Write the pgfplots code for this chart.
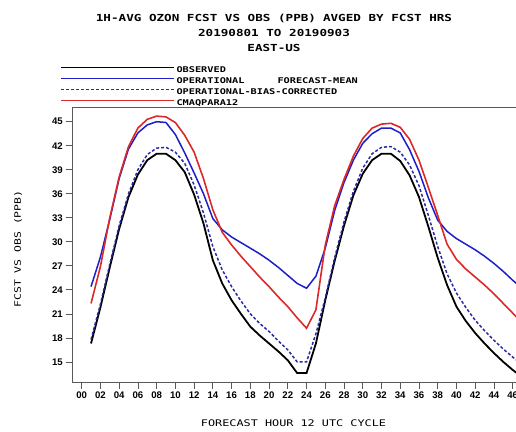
\documentclass[border=0pt]{standalone}
\usepackage{fontspec}
\usepackage{pgfplots}
\pgfplotsset{compat=1.18}
\usepackage{pgfplotstable}
\newfontfamily\gfont{DejaVu Sans Mono}[FakeStretch=1.3]
\newfontfamily\tfont{Liberation Sans}
\definecolor{obscol}{HTML}{000000}
\definecolor{opcol}{HTML}{1E1EC8}
\definecolor{bccol}{HTML}{2A2AA0}
\definecolor{cmcol}{HTML}{DC2828}

\pgfplotstableread{
h obs oper bc cmaq
1 17.3 24.4 17.8 22.3
2 21.8 28.1 22.2 26.9
3 26.8 32.8 27.2 33.0
4 31.6 37.9 32.0 38.1
5 35.6 41.6 36.0 41.9
6 38.4 43.6 39.0 44.2
7 40.2 44.6 40.9 45.3
8 41.0 45.0 41.7 45.7
9 41.0 44.9 41.8 45.6
10 40.2 43.4 41.2 44.9
11 38.7 41.1 39.8 43.3
12 35.9 38.6 37.1 41.2
13 32.3 36.0 33.6 37.9
14 27.7 32.9 29.4 34.0
15 24.8 31.5 26.5 31.2
16 22.7 30.6 24.4 29.6
17 21.0 29.9 22.6 28.2
18 19.4 29.2 21.0 26.9
19 18.3 28.5 19.8 25.6
20 17.3 27.7 18.8 24.4
21 16.3 26.8 17.6 23.1
22 15.2 25.8 16.5 21.9
23 13.6 24.8 15.0 20.5
24 13.6 24.2 15.0 19.2
25 17.3 25.7 18.5 21.5
26 22.7 29.2 23.0 29.6
27 27.6 33.9 28.0 34.5
28 32.0 37.4 32.5 37.8
29 35.8 40.2 36.3 40.7
30 38.5 42.3 39.2 42.9
31 40.2 43.5 41.0 44.2
32 41.0 44.2 41.8 44.7
33 41.0 44.2 41.9 44.8
34 40.1 43.6 41.2 44.3
35 38.3 41.5 39.6 42.8
36 35.6 38.8 37.0 40.2
37 31.9 35.5 33.3 36.8
38 28.0 32.7 29.4 33.3
39 24.6 31.3 26.0 29.7
40 21.9 30.4 23.6 27.8
41 20.1 29.7 21.8 26.6
42 18.6 29.0 20.2 25.6
43 17.3 28.2 18.9 24.6
44 16.1 27.3 17.7 23.5
45 15.0 26.3 16.6 22.3
46 14.0 25.2 15.6 21.1
47 13.1 24.2 14.7 19.9
}\ozone

\begin{document}
\begin{tikzpicture}
\begin{axis}[
  at={(0pt,0pt)}, anchor=south west,
  scale only axis, width=459.1pt, height=275.4pt,
  xmin=-1, xmax=48, ymin=12.4, ymax=46.8,
  axis line style={black!65, line width=0.8pt},
  tick align=outside, major tick length=6pt,
  tick style={black!65, line width=0.7pt},
  xtick pos=bottom, ytick pos=left,
  xtick={0,2,...,46},
  xticklabels={00,02,04,06,08,10,12,14,16,18,20,22,24,26,28,30,32,34,36,38,40,42,44,46},
  ytick={15,18,...,45},
  ticklabel style={font=\tfont\bfseries\fontsize{9.6}{10}\selectfont},
  /pgf/number format/assume math mode=true,
  clip=true,
  legend image code/.code={\draw[#1] (0pt,2.8pt) -- (113pt,2.8pt);},
  legend cell align=left,
  legend style={at={(axis description cs:-0.0268,1.1547)}, anchor=north west,
    draw=none, fill=none, inner sep=0pt,
    font=\gfont\bfseries\fontsize{7.9}{8}\selectfont,
    nodes={inner sep=1.5pt, text height=6.5pt, text depth=1.5pt},
    /tikz/every even column/.style={column sep=0pt}},
]
\addplot[obscol, line width=1.8pt] table[x=h, y=obs] {\ozone};
\addlegendentry{OBSERVED}
\addplot[opcol, line width=1.5pt] table[x=h, y=oper] {\ozone};
\addlegendentry{OPERATIONAL\hspace*{33pt}FORECAST-MEAN}
\addplot[bccol, line width=1.5pt, dash pattern=on 3pt off 2pt] table[x=h, y=bc] {\ozone};
\addlegendentry{OPERATIONAL-BIAS-CORRECTED}
\addplot[cmcol, line width=1.6pt] table[x=h, y=cmaq] {\ozone};
\addlegendentry{CMAQPARA12}
\end{axis}
\begin{scope}[font=\gfont\bfseries\fontsize{9.7}{10}\selectfont]
\node at (201.7pt,364.7pt) {1H-AVG OZON FCST VS OBS (PPB)\hspace*{7pt}AVGED BY FCST HRS};
\node at (201.7pt,349.7pt) {20190801 TO 20190903};
\node at (201.7pt,334.7pt) {EAST-US};
\end{scope}
\node[font=\gfont\fontsize{9.1}{10}\selectfont] at (221.2pt,-40.3pt) {FORECAST HOUR\hspace*{7pt}12 UTC CYCLE};
\node[font=\gfont\fontsize{8.8}{10}\selectfont, rotate=90] at (-54.3pt,133.7pt) {FCST VS OBS (PPB)};
\pgfresetboundingbox
\path[use as bounding box] (-72.3pt,-48.3pt) rectangle (443.7pt,382.7pt);
\end{tikzpicture}
\end{document}
